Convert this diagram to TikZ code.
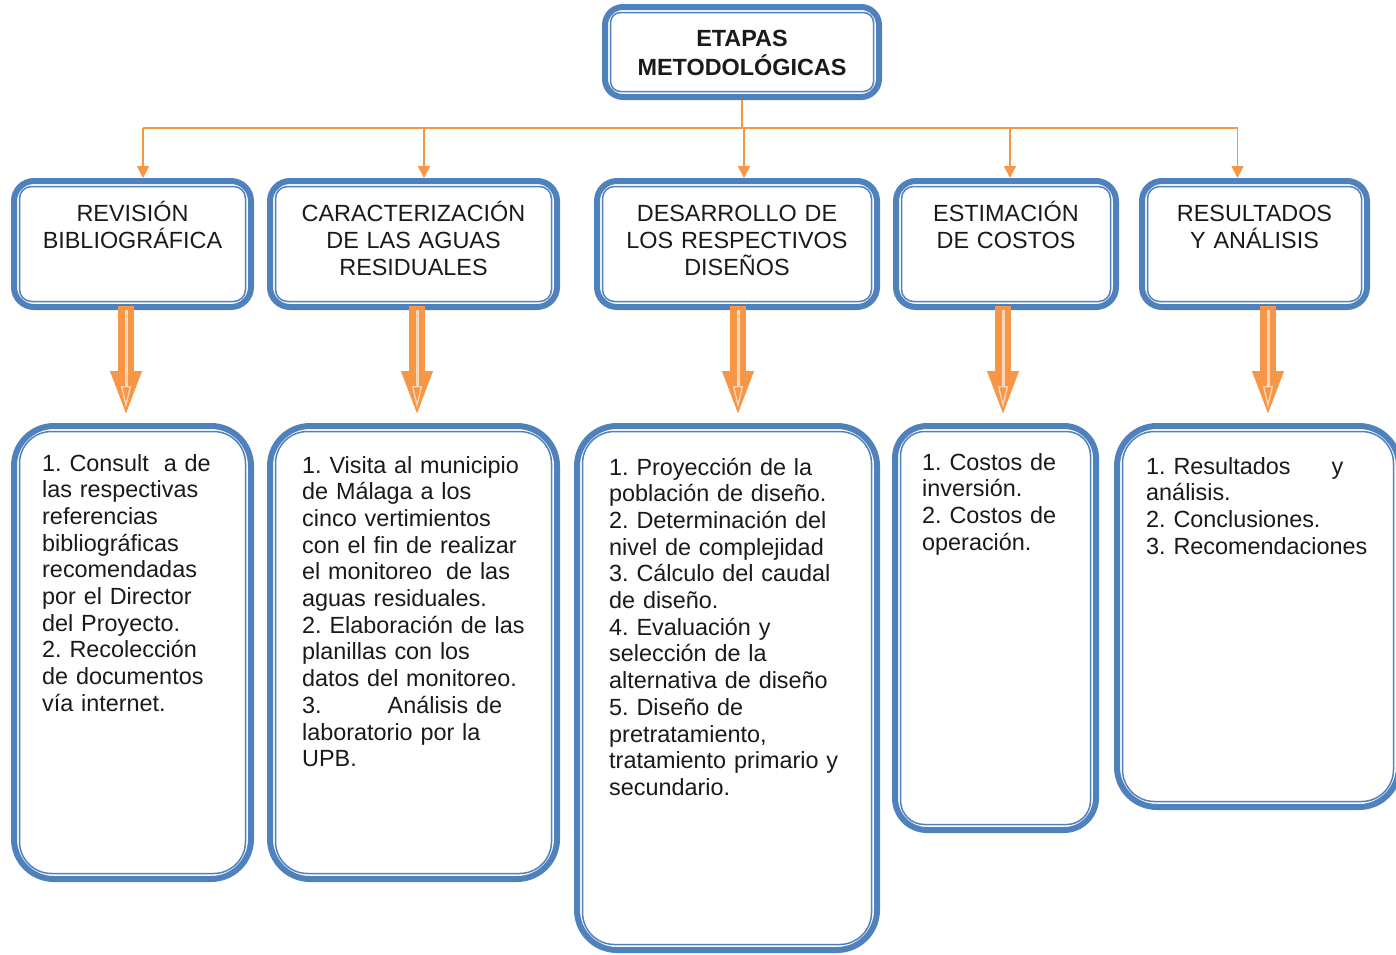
\documentclass[tikz,border=0pt]{standalone}
\usepackage{fontspec}
\setmainfont{Liberation Sans}
\usepackage{xcolor}
\usetikzlibrary{shapes,arrows,positioning,calc,arrows.meta}

\definecolor{boxblue}{RGB}{79,129,189}
\definecolor{arroworange}{RGB}{247,150,70}
\definecolor{shineorange}{RGB}{252,214,184}
\definecolor{inktext}{RGB}{26,26,26}

\frenchspacing

\tikzset{
  stagebox/.style={rectangle, draw=boxblue, line width=6pt, fill=white, inner sep=0pt},
  innerline/.style={draw=boxblue, line width=1.5pt},
  titletext/.style={font=\fontsize{23.4}{29}\selectfont\bfseries, text=inktext, text width=260pt, align=center, anchor=base, inner sep=0pt},
  headtext/.style={font=\fontsize{23.4}{27}\selectfont, text=inktext, text width=280pt, align=center, anchor=base, inner sep=0pt},
  listtext/.style={font=\fontsize{23.4}{26.7}\selectfont, text=inktext, text width=265pt, align=left, anchor=base west, inner sep=0pt},
  conn/.style={draw=arroworange, line width=1.8pt},
  bigarrow/.style={draw=arroworange, line width=16pt, -{Triangle[length=46pt,width=28pt]}},
  shine/.style={draw=shineorange, line width=3pt, -{Triangle[open,length=22pt,width=10pt,line width=1.3pt]}}
}

\begin{document}
\begin{tikzpicture}[x=1pt, y=-1pt]
    \useasboundingbox (0,0) rectangle (1396,954);

    % Title
    \node[stagebox, rounded corners=18pt, minimum width=274pt, minimum height=90pt] (top) at (742,52) {};

    % Stages
    \node[stagebox, rounded corners=20pt, minimum width=237pt, minimum height=126pt] (h1) at (132.5,244) {};
    \node[stagebox, rounded corners=20pt, minimum width=287pt, minimum height=126pt] (h2) at (413.5,244) {};
    \node[stagebox, rounded corners=20pt, minimum width=280pt, minimum height=126pt] (h3) at (737,244) {};
    \node[stagebox, rounded corners=20pt, minimum width=220pt, minimum height=126pt] (h4) at (1006,244) {};
    \node[stagebox, rounded corners=20pt, minimum width=225pt, minimum height=126pt] (h5) at (1254.5,244) {};

    % Details
    \node[stagebox, rounded corners=40pt, minimum width=237pt, minimum height=453pt] (d1) at (132.5,652.5) {};
    \node[stagebox, rounded corners=40pt, minimum width=287pt, minimum height=453pt] (d2) at (413.5,652.5) {};
    \node[stagebox, rounded corners=40pt, minimum width=300pt, minimum height=524pt] (d3) at (727,688) {};
    \node[stagebox, rounded corners=32pt, minimum width=201pt, minimum height=404pt] (d4) at (995.5,628) {};
    \node[stagebox, rounded corners=40pt, minimum width=282pt, minimum height=381pt] (d5) at (1258,616.5) {};

    % thin inner lines
    \foreach \b/\r in {top/10pt,h1/12pt,h2/12pt,h3/12pt,h4/12pt,h5/12pt,d1/32pt,d2/32pt,d3/32pt,d4/24pt,d5/32pt}
        \draw[innerline, rounded corners=\r] ([shift={(8.5,8.5)}]\b.north west) rectangle ([shift={(-8.5,-8.5)}]\b.south east);

    % Texts
    \node[titletext] (topt) at ($(top.north)+(0,42)$) {ETAPAS\\METODOLÓGICAS};

    \node[headtext] (h1t) at ($(h1.north)+(0,43)$) {REVISIÓN\\BIBLIOGRÁFICA};
    \node[headtext] (h2t) at ($(h2.north)+(0,43)$) {CARACTERIZACIÓN\\DE LAS AGUAS\\RESIDUALES};
    \node[headtext] (h3t) at ($(h3.north)+(0,43)$) {DESARROLLO DE\\LOS RESPECTIVOS\\DISEÑOS};
    \node[headtext] (h4t) at ($(h4.north)+(0,43)$) {ESTIMACIÓN\\DE COSTOS};
    \node[headtext] (h5t) at ($(h5.north)+(0,43)$) {RESULTADOS\\Y ANÁLISIS};

    \node[listtext] (d1t) at ($(d1.north west)+(31,48)$) {1. Consult\hspace{15pt}a de\\las respectivas\\referencias\\bibliográficas\\recomendadas\\por el Director\\del Proyecto.\\2. Recolección\\de documentos\\vía internet.};
    \node[listtext] (d2t) at ($(d2.north west)+(35,50)$) {1. Visita al municipio\\de Málaga a los\\cinco vertimientos\\con el fin de realizar\\el monitoreo\hspace{14pt}de las\\aguas residuales.\\2. Elaboración de las\\planillas con los\\datos del monitoreo.\\3.\hspace{66pt}Análisis de\\laboratorio por la\\UPB.};
    \node[listtext] (d3t) at ($(d3.north west)+(35,52)$) {1. Proyección de la\\población de diseño.\\2. Determinación del\\nivel de complejidad\\3. Cálculo del caudal\\de diseño.\\4. Evaluación y\\selección de la\\alternativa de diseño\\5. Diseño de\\pretratamiento,\\tratamiento primario y\\secundario.};
    \node[listtext] (d4t) at ($(d4.north west)+(30,47)$) {1. Costos de\\inversión.\\2. Costos de\\operación.};
    \node[listtext] (d5t) at ($(d5.north west)+(32,51)$) {1. Resultados\hspace{41pt}y\\análisis.\\2. Conclusiones.\\3. Recomendaciones};

    % Tree of thin arrows
    \coordinate (bus) at (742,128);
    \draw[conn] (top.south) -- (top.south |- bus);
    \draw[conn] ([xshift=10.5pt]h1.north |- bus) -- ([xshift=-17pt]h5.north |- bus);
    \foreach \n/\dx in {h1/10.5,h2/10.5,h3/7,h4/4,h5/-17}
        \draw[conn, -{Triangle[length=12pt,width=12pt]}] ([xshift=\dx pt]\n.north |- bus) -- ([xshift=\dx pt]\n.north);

    % Big arrows
    \foreach \n/\dx in {1/-6.5,2/3.5,3/1,4/-3,5/13.5} {
        \draw[bigarrow, shorten <=-4pt, shorten >=6pt] ([xshift=\dx pt]h\n.south) -- ([xshift=\dx pt]h\n.south |- d\n.north);
        \draw[shine, shorten >=15pt] ([xshift=\dx pt]h\n.south) -- ([xshift=\dx pt]h\n.south |- d\n.north);
    }
\end{tikzpicture}
\end{document}
